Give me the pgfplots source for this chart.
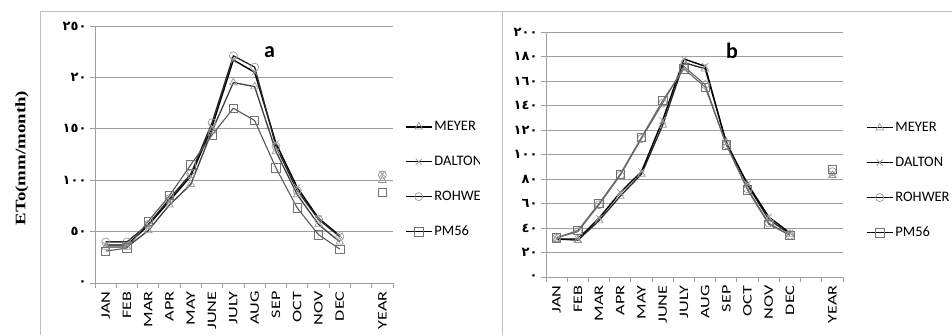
\documentclass[border=0pt]{standalone}
\usepackage{fontspec}
\setmainfont{Carlito}
\newfontfamily\arabicfont[Script=Arabic]{DejaVu Sans}
\newfontfamily\lserif{Liberation Serif}
\usepackage{graphicx}
\usepackage{pgfplots}
\pgfplotsset{compat=1.18}

\pgfplotstableread{
x MEYER DALTON ROHWER PM56
1 35 37 40 31
2 35 37 40 34
3 51 56 57 60
4 76 80 82 85
5 96 104 106 115
6 148 152 156 144
7 195 217 221 170
8 191 205 210 158
9 128 136 133 112
10 86 93 90 73
11 57 63 62 47
12 40 46 45 33
13 nan nan nan nan
14 100 106 105 88
}\dataA

\pgfplotstableread{
x MEYER DALTON ROHWER PM56
1 31 31 32 32
2 30 31 37 38
3 46 48 59 60
4 66 69 83 84
5 84 86 113 114
6 124 128 142 144
7 175 178 172 170
8 170 172 157 155
9 110 109 108 108
10 75 76 72 71
11 47 49 44 43
12 35 36 34 34
13 nan nan nan nan
14 83 84 86 88
}\dataB

\newcommand{\xl}[1]{\scalebox{1.4}[1]{#1}}
\tikzset{mkstyle/.style={draw=black!40, line width=0.7pt, fill=none, solid}}

\pgfplotsset{
  base/.style={
    scale only axis,
    xmin=0.5, xmax=14.5,
    xtick={0.5,1.5,...,14.5},
    x tick label as interval,
    xticklabels={\xl{JAN},\xl{FEB},\xl{MAR},\xl{APR},\xl{MAY},\xl{JUNE},\xl{JULY},\xl{AUG},\xl{SEP},\xl{OCT},\xl{NOV},\xl{DEC},{},\xl{YEAR}},
    xticklabel style={rotate=90, anchor=east, font=\fontsize{13}{13}\selectfont},
    yticklabel style={font=\arabicfont\bfseries\fontsize{13}{14}\selectfont},
    axis x line*=bottom, axis y line*=left,
    tick align=outside, major tick length=5pt,
    ymajorgrids,
    grid style={gray!75, line width=0.9pt},
    axis line style={gray!75, line width=0.9pt},
    tick style={gray!75, line width=0.9pt},
    unbounded coords=jump,
    clip=false,
    legend cell align=left,
    legend image code/.code={\draw[mark repeat=2,mark phase=2,##1, draw=black, line width=1.3pt] plot coordinates {(0pt,0pt) (13pt,0pt) (26pt,0pt)};},
    legend style={draw=none, fill=none, anchor=north west, font=\fontsize{14.5}{17}\selectfont, row sep=20pt, inner sep=0pt},
  },
}

\begin{document}
\begin{tikzpicture}
\useasboundingbox (0pt,0pt) rectangle (952pt,335pt);

% ---------- panel a ----------
\begin{axis}[base,
  at={(95pt,52pt)}, anchor=south west,
  width=298pt, height=257pt,
  ymin=0, ymax=250, ytick={0,50,100,150,200,250},
  yticklabels={٠,٥٠,١٠٠,١٥٠,٢٠,٢٥٠},
  legend style={at={(1.04,0.637)}},
]
\addplot[black!75, line width=1.3pt, mark=triangle, mark size=4.4pt, mark options={mkstyle}] table[x=x,y=MEYER]{\dataA};
\addlegendentry{MEYER}
\addplot[black, line width=1.4pt, mark=x, mark size=4.4pt, mark options={mkstyle}] table[x=x,y=DALTON]{\dataA};
\addlegendentry{DALTON}
\addplot[black!85, line width=1.3pt, mark=o, mark size=4pt, mark options={mkstyle}] table[x=x,y=ROHWER]{\dataA};
\addlegendentry{ROHWER}
\addplot[black!65, line width=1.1pt, mark=square, mark size=4.2pt, mark options={mkstyle, draw=black!55}] table[x=x,y=PM56]{\dataA};
\addlegendentry{PM56}
\node[font=\bfseries\fontsize{22}{22}\selectfont] at (axis cs:8.7,225) {a};
\end{axis}

\fill[white] (480pt,0pt) rectangle (501.5pt,322pt);

% ---------- panel b ----------
\begin{axis}[base,
  at={(546pt,58pt)}, anchor=south west,
  width=297pt, height=245pt,
  ymin=0, ymax=200, ytick={0,20,...,200},
  yticklabels={٠,٢٠,٤٠,٦٠,٨٠,١٠٠,١٢٠,١٤٠,١٦٠,١٨٠,٢٠٠},
  legend style={at={(1.077,0.64)}},
]
\addplot[black!85, line width=1.3pt, mark=triangle, mark size=4.4pt, mark options={mkstyle}] table[x=x,y=MEYER]{\dataB};
\addlegendentry{MEYER}
\addplot[black, line width=1.4pt, mark=x, mark size=4.4pt, mark options={mkstyle}] table[x=x,y=DALTON]{\dataB};
\addlegendentry{DALTON}
\addplot[black!60, line width=1.1pt, mark=o, mark size=4pt, mark options={mkstyle}] table[x=x,y=ROHWER]{\dataB};
\addlegendentry{ROHWER}
\addplot[black!60, line width=1.1pt, mark=square, mark size=4.2pt, mark options={mkstyle, draw=black!55}] table[x=x,y=PM56]{\dataB};
\addlegendentry{PM56}
\node[font=\bfseries\fontsize{22}{22}\selectfont] at (axis cs:9.27,185) {b};
\end{axis}

% frames
\draw[black!25, line width=1pt] (40pt,0pt) -- (40pt,323pt) -- (502pt,323pt) -- (502pt,0pt);
\draw[black!25, line width=1pt] (502pt,323pt) -- (952pt,323pt);

% y label
\node[rotate=90] at (22pt,177pt) {\lserif\bfseries\fontsize{14.5}{17}\selectfont\scalebox{1.3}[1]{ETo(mm/month)}};
\end{tikzpicture}
\end{document}
